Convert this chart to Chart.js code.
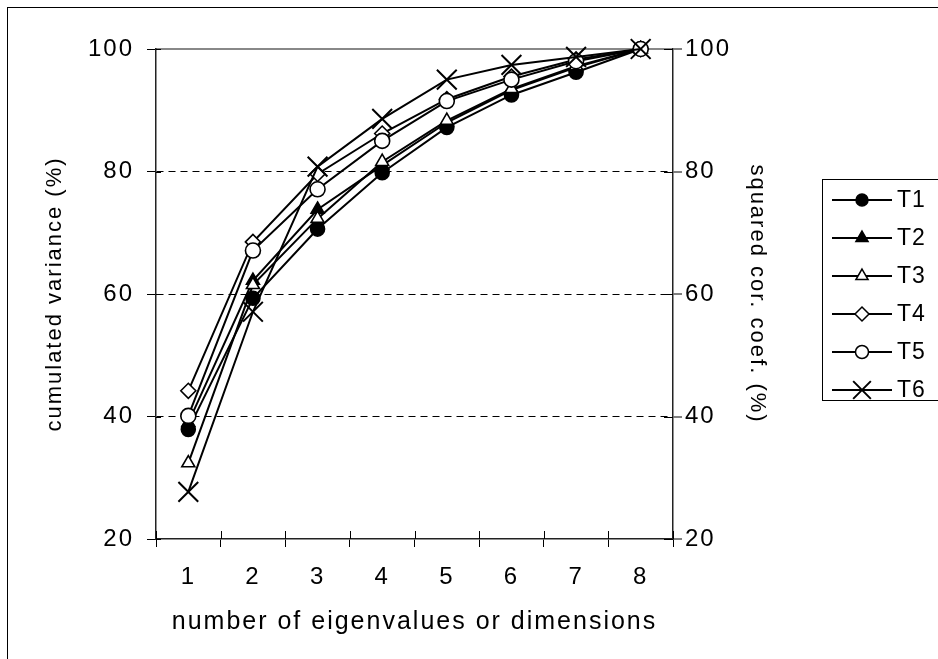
<!DOCTYPE html>
<html>
<head>
<meta charset="utf-8">
<script src="https://cdn.jsdelivr.net/npm/chart.js@4.4.1/dist/chart.umd.min.js"></script>
<style>
  body { margin: 0; background: #fff; }
</style>
</head>
<body>
<canvas id="eigenChart" width="938" height="659"></canvas>
<script>
var dimensions = ["1", "2", "3", "4", "5", "6", "7", "8"];
var seriesNames = ["T1", "T2", "T3", "T4", "T5", "T6"];
var t1 = [37.9, 59.3, 70.6, 79.8, 87.2, 92.5, 96.2, 100];
var t2 = [39.0, 62.2, 73.8, 81.0, 88.0, 93.3, 97.0, 100];
var t3 = [32.4, 61.5, 72.3, 81.6, 88.3, 93.5, 97.2, 100];
var t4 = [44.2, 68.5, 79.6, 86.2, 91.8, 95.5, 98.3, 100];
var t5 = [40.1, 67.1, 77.1, 85.0, 91.5, 95.0, 98.0, 100];
var t6 = [27.7, 57.1, 80.8, 88.6, 95.0, 97.4, 98.7, 100];
var yTicks = [20, 40, 60, 80, 100];

var seriesValues = [t1, t2, t3, t4, t5, t6];
// marker look per series: style, fill, radius
var markers = [
    { style: 'circle', fill: '#000', r: 7 },
    { style: 'triangle', fill: '#000', r: 7.5 },
    { style: 'triangle', fill: '#fff', r: 7.5 },
    { style: 'rectRot', fill: '#fff', r: 7.5 },
    { style: 'circle', fill: '#fff', r: 7.5 },
    { style: 'crossRot', fill: '#fff', r: 14 }
];
var legendMarkers = [6, 7, 7, 7, 6.5, 12.5];

var fontFamily = "'Liberation Sans', Arial, sans-serif";

var datasets = seriesNames.map(function (name, i) {
    return {
        label: name,
        data: seriesValues[i],
        borderColor: '#000',
        borderWidth: 2,
        pointStyle: markers[i].style,
        pointRadius: markers[i].r,
        pointHoverRadius: markers[i].r,
        pointBackgroundColor: markers[i].fill,
        pointBorderColor: '#000',
        pointBorderWidth: i === 5 ? 2 : 1.6,
        tension: 0,
        clip: false,
        order: 6 - i
    };
});

var spacing = {
    id: 'spacing',
    beforeUpdate: function (chart) { chart.ctx.letterSpacing = '2px'; },
    beforeDraw: function (chart) {
        var ctx = chart.ctx;
        ctx.letterSpacing = '2px';
        ctx.save();
        ctx.fillStyle = '#fff';
        ctx.fillRect(0, 0, chart.width, chart.height);
        // outer frame, runs off the right and bottom edges
        ctx.strokeStyle = '#000';
        ctx.lineWidth = 1;
        ctx.strokeRect(7.5, 7.5, chart.width + 20, chart.height + 20);
        ctx.restore();
    }
};

var innerTicks = {
    id: 'innerTicks',
    afterDraw: function (chart) {
        var ctx = chart.ctx, a = chart.chartArea, x = chart.scales.x, y = chart.scales.y;
        ctx.save();
        ctx.strokeStyle = '#000';
        ctx.lineWidth = 1;
        ctx.beginPath();
        var step = x.width / x.ticks.length;
        for (var i = 0; i <= x.ticks.length; i++) {
            var px = Math.round(x.left + i * step) + 0.5;
            ctx.moveTo(px, a.bottom);
            ctx.lineTo(px, a.bottom - 8);
        }
        y.ticks.forEach(function (t) {
            var py = Math.round(y.getPixelForValue(t.value)) + 0.5;
            ctx.moveTo(a.left, py);
            ctx.lineTo(a.left + 5, py);
            ctx.moveTo(a.right, py);
            ctx.lineTo(a.right - 9, py);
        });
        ctx.stroke();
        ctx.restore();
    }
};

var sideLegend = {
    id: 'sideLegend',
    afterDraw: function (chart) {
        var ctx = chart.ctx;
        ctx.save();
        ctx.strokeStyle = '#000';
        ctx.lineWidth = 1;
        ctx.strokeRect(822.5, 179.5, 130, 221);
        ctx.font = '23px ' + fontFamily;
        ctx.letterSpacing = '1px';
        ctx.textBaseline = 'middle';
        ctx.fillStyle = '#000';
        chart.data.datasets.forEach(function (ds, i) {
            var cy = 200 + i * 38;
            ctx.lineWidth = 2;
            ctx.beginPath();
            ctx.moveTo(832, cy);
            ctx.lineTo(892, cy);
            ctx.stroke();
            ctx.fillStyle = ds.pointBackgroundColor;
            ctx.lineWidth = i === 5 ? 2 : 1.5;
            Chart.helpers.drawPoint(ctx, {
                pointStyle: ds.pointStyle,
                radius: legendMarkers[i],
                rotation: 0,
                borderWidth: 1.5
            }, 862, cy);
            ctx.fillStyle = '#000';
            ctx.fillText(ds.label, 897, cy + 1);
        });
        ctx.restore();
    }
};

var ctx = document.getElementById('eigenChart').getContext('2d');
var chart = new Chart(ctx, {
    type: 'line',
    data: {
        labels: dimensions,
        datasets: datasets
    },
    options: {
        responsive: false,
        animation: false,
        layout: { padding: { top: 49, left: 8, right: 165, bottom: 10 } },
        plugins: {
            legend: { display: false },
            tooltip: { enabled: false }
        },
        scales: {
            x: {
                offset: true,
                afterFit: function (s) { s.height = 110; },
                grid: { drawOnChartArea: false, offset: true, tickLength: 8, tickColor: '#000', color: '#000' },
                border: { color: '#222', width: 1.5 },
                ticks: { color: '#000', padding: 16, maxRotation: 0, font: { family: fontFamily, size: 24 } },
                title: {
                    display: true,
                    text: 'number of eigenvalues or dimensions',
                    color: '#000',
                    padding: { top: 0, bottom: 12 },
                    font: { family: fontFamily, size: 25 }
                }
            },
            y: {
                position: 'left',
                min: 20,
                max: 100,
                afterFit: function (s) { s.width = 148; },
                afterBuildTicks: function (s) { s.ticks = yTicks.map(function (v) { return { value: v }; }); },
                grid: {
                    color: function (c) { return (c.tick && (c.tick.value === 20 || c.tick.value === 100)) ? 'rgba(0,0,0,0)' : '#000'; },
                    lineWidth: 1,
                    tickLength: 9,
                    tickColor: '#000'
                },
                border: { color: '#222', width: 1.5, dash: [7, 5] },
                ticks: { color: '#000', padding: 13, font: { family: fontFamily, size: 24 } },
                title: {
                    display: true,
                    text: 'cumulated variance (%)',
                    color: '#000',
                    padding: { top: 34, bottom: 0 },
                    font: { family: fontFamily, size: 22 }
                }
            },
            y2: {
                position: 'right',
                min: 20,
                max: 100,
                afterFit: function (s) { s.width = 100; },
                afterBuildTicks: function (s) { s.ticks = yTicks.map(function (v) { return { value: v }; }); },
                grid: {
                    color: function (c) { return (c.tick && c.tick.value === 100) ? '#888' : 'rgba(0,0,0,0)'; },
                    lineWidth: 2,
                    tickLength: 9,
                    tickColor: '#000',
                    tickWidth: 1
                },
                border: { color: '#222', width: 1.5 },
                ticks: { color: '#000', padding: 3, font: { family: fontFamily, size: 24 } },
                title: {
                    display: true,
                    text: 'squared cor. coef. (%)',
                    color: '#000',
                    padding: { top: 3, bottom: 0 },
                    font: { family: fontFamily, size: 22 }
                }
            }
        }
    },
    plugins: [spacing, innerTicks, sideLegend]
});
</script>
</body>
</html>
